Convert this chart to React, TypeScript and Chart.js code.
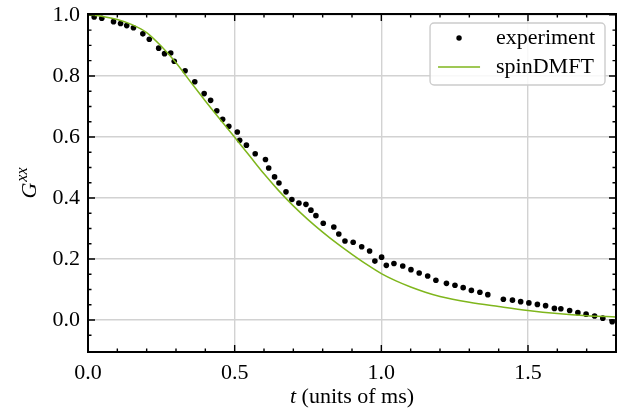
import React, { useEffect, useRef } from "react";
import { Chart, registerables } from "chart.js";

Chart.register(...registerables);

// ---------- data ----------
const tExp = [
  0.021, 0.047, 0.087, 0.111, 0.132, 0.155, 0.187, 0.209, 0.241, 0.261, 0.282, 0.294,
  0.331, 0.364, 0.396, 0.418, 0.439, 0.459, 0.48, 0.509, 0.517, 0.54, 0.57, 0.605,
  0.616, 0.636, 0.651, 0.675, 0.695, 0.719, 0.743, 0.76, 0.777, 0.802, 0.838, 0.855,
  0.876, 0.904, 0.933, 0.96, 0.978, 1.001, 1.017, 1.043, 1.073, 1.101, 1.129, 1.158,
  1.186, 1.222, 1.251, 1.279, 1.307, 1.336, 1.363, 1.416, 1.447, 1.475, 1.503, 1.532,
  1.56, 1.59, 1.612, 1.642, 1.67, 1.698, 1.727, 1.755, 1.787,
];
const gExp = [
  0.993, 0.989, 0.978, 0.972, 0.965, 0.958, 0.938, 0.92, 0.891, 0.873, 0.875, 0.848,
  0.817, 0.781, 0.742, 0.72, 0.686, 0.658, 0.635, 0.616, 0.589, 0.573, 0.545, 0.526,
  0.498, 0.469, 0.449, 0.42, 0.395, 0.383, 0.379, 0.36, 0.342, 0.317, 0.305, 0.282,
  0.259, 0.255, 0.24, 0.226, 0.193, 0.206, 0.179, 0.185, 0.177, 0.165, 0.154, 0.144,
  0.13, 0.12, 0.114, 0.106, 0.097, 0.091, 0.083, 0.068, 0.065, 0.06, 0.056, 0.051,
  0.047, 0.038, 0.037, 0.031, 0.024, 0.019, 0.013, 0.006, -0.006,
];
const tTheory = [
  0, 0.05, 0.1, 0.15, 0.2, 0.25, 0.3, 0.35, 0.4, 0.45, 0.5, 0.55, 0.6, 0.65, 0.7,
  0.75, 0.8, 0.85, 0.9, 0.95, 1.0, 1.05, 1.1, 1.15, 1.2, 1.3, 1.4, 1.5, 1.6, 1.7, 1.8,
];
const gTheory = [
  1.0, 0.995, 0.985, 0.968, 0.942, 0.897, 0.843, 0.78, 0.718, 0.658, 0.599, 0.539,
  0.479, 0.424, 0.374, 0.329, 0.288, 0.25, 0.215, 0.182, 0.152, 0.128, 0.108, 0.091,
  0.077, 0.058, 0.044, 0.031, 0.021, 0.014, 0.01,
];
const seriesLabels = ["experiment", "spinDMFT"];
const xMajorTicks = [0, 0.5, 1.0, 1.5];
const yMajorTicks = [0, 0.2, 0.4, 0.6, 0.8, 1.0];
const xMinorTicks = [0.1, 0.2, 0.3, 0.4, 0.6, 0.7, 0.8, 0.9, 1.1, 1.2, 1.3, 1.4, 1.6, 1.7];
const yMinorTicks = [-0.05, 0.05, 0.1, 0.15, 0.25, 0.3, 0.35, 0.45, 0.5, 0.55, 0.65, 0.7, 0.75, 0.85, 0.9, 0.95];
const X_MIN = 0;
const X_MAX = 1.8;
const Y_MIN = -0.105;
const Y_MAX = 1.003;

// ---------- style ----------
const FONT = "'Liberation Serif', 'Times New Roman', serif";
const GREEN = "#7fb61c";
const GRID = "#d2d2d2";

function roundRectPath(ctx: CanvasRenderingContext2D, x: number, y: number, w: number, h: number, r: number) {
  ctx.beginPath();
  ctx.moveTo(x + r, y);
  ctx.lineTo(x + w - r, y);
  ctx.arcTo(x + w, y, x + w, y + r, r);
  ctx.lineTo(x + w, y + h - r);
  ctx.arcTo(x + w, y + h, x + w - r, y + h, r);
  ctx.lineTo(x + r, y + h);
  ctx.arcTo(x, y + h, x, y + h - r, r);
  ctx.lineTo(x, y + r);
  ctx.arcTo(x, y, x + r, y, r);
  ctx.closePath();
}

const sciPlugin = {
  id: "sciChrome",
  afterDatasetsDraw(chart: any) {
    const { ctx, chartArea: a, scales } = chart;
    const xs = scales.x;
    const ys = scales.y;
    ctx.save();
    // ticks (inward, all four sides)
    ctx.strokeStyle = "#000";
    ctx.lineWidth = 1.4;
    const MAJ = 7;
    const MIN = 3.5;
    ctx.beginPath();
    const xt = (v: number, len: number) => {
      const p = xs.getPixelForValue(v);
      ctx.moveTo(p, a.bottom);
      ctx.lineTo(p, a.bottom - len);
      ctx.moveTo(p, a.top);
      ctx.lineTo(p, a.top + len);
    };
    const yt = (v: number, len: number) => {
      const p = ys.getPixelForValue(v);
      ctx.moveTo(a.left, p);
      ctx.lineTo(a.left + len, p);
      ctx.moveTo(a.right, p);
      ctx.lineTo(a.right - len, p);
    };
    xMajorTicks.forEach((v) => xt(v, MAJ));
    xMinorTicks.forEach((v) => xt(v, MIN));
    yMajorTicks.forEach((v) => yt(v, MAJ));
    yMinorTicks.forEach((v) => yt(v, MIN));
    ctx.stroke();

    // frame
    ctx.lineWidth = 2;
    ctx.strokeRect(a.left, a.top, a.right - a.left, a.bottom - a.top);

    // legend
    ctx.font = `22px ${FONT}`;
    const textW = Math.max(...seriesLabels.map((s) => ctx.measureText(s).width));
    const padL = 8, handleW = 42, gap = 16, padR = 10;
    const boxW = padL + handleW + gap + textW + padR;
    const boxRight = a.right - 11;
    const boxLeft = boxRight - boxW;
    const boxTop = a.top + 9;
    const boxH = 62;
    roundRectPath(ctx, boxLeft, boxTop, boxW, boxH, 4);
    ctx.fillStyle = "rgba(255,255,255,0.85)";
    ctx.fill();
    ctx.strokeStyle = "#cccccc";
    ctx.lineWidth = 1.4;
    ctx.stroke();
    const row1 = boxTop + 15;
    const row2 = boxTop + 44;
    const hx = boxLeft + padL;
    ctx.fillStyle = "#000";
    ctx.beginPath();
    ctx.arc(hx + handleW / 2, row1, 2.7, 0, Math.PI * 2);
    ctx.fill();
    ctx.strokeStyle = GREEN;
    ctx.lineWidth = 1.5;
    ctx.beginPath();
    ctx.moveTo(hx, row2);
    ctx.lineTo(hx + handleW, row2);
    ctx.stroke();
    ctx.fillStyle = "#000";
    ctx.textAlign = "left";
    ctx.textBaseline = "middle";
    const tx = hx + handleW + gap;
    ctx.fillText(seriesLabels[0], tx, row1);
    ctx.fillText(seriesLabels[1], tx, row2);

    // x title: italic t + " (units of ms)"
    const cx = (a.left + a.right) / 2;
    ctx.textBaseline = "alphabetic";
    ctx.font = `italic 22px ${FONT}`;
    const wT = ctx.measureText("t").width;
    ctx.font = `22px ${FONT}`;
    const rest = " (units of ms)";
    const wR = ctx.measureText(rest).width;
    const sx = cx - (wT + wR) / 2;
    const by = 403;
    ctx.font = `italic 22px ${FONT}`;
    ctx.fillText("t", sx, by);
    ctx.font = `22px ${FONT}`;
    ctx.fillText(rest, sx + wT, by);

    // y title: G^{xx}
    ctx.save();
    ctx.translate(26, (a.top + a.bottom) / 2);
    ctx.rotate(-Math.PI / 2);
    ctx.font = `italic 22px ${FONT}`;
    const wG = ctx.measureText("G").width;
    ctx.font = `italic 16px ${FONT}`;
    const wX = ctx.measureText("xx").width;
    const start = -(wG + 1 + wX) / 2;
    ctx.font = `italic 22px ${FONT}`;
    ctx.fillText("G", start, 10);
    ctx.font = `italic 16px ${FONT}`;
    ctx.fillText("xx", start + wG + 1, 1);
    ctx.restore();

    ctx.restore();
  },
};

export default function App() {
  const canvasRef = useRef<HTMLCanvasElement | null>(null);

  useEffect(() => {
    document.body.style.margin = "0";
    const canvas = canvasRef.current;
    if (!canvas) return;
    const chart = new Chart(canvas, {
      type: "scatter",
      data: {
        datasets: [
          {
            type: "line",
            label: seriesLabels[1],
            data: tTheory.map((t, i) => ({ x: t, y: gTheory[i] })),
            borderColor: GREEN,
            backgroundColor: GREEN,
            borderWidth: 1.5,
            pointRadius: 0,
            cubicInterpolationMode: "monotone",
            fill: false,
            order: 0,
          } as any,
          {
            type: "scatter",
            label: seriesLabels[0],
            data: tExp.map((t, i) => ({ x: t, y: gExp[i] })),
            backgroundColor: "#000",
            borderColor: "#000",
            borderWidth: 0,
            pointRadius: 2.8,
            order: 1,
          } as any,
        ],
      },
      options: {
        animation: false,
        responsive: false,
        devicePixelRatio: 1,
        layout: { padding: { left: 48, right: 7, top: 14, bottom: 0 } },
        plugins: {
          legend: { display: false },
          tooltip: { enabled: false },
        },
        scales: {
          x: {
            type: "linear",
            min: X_MIN,
            max: X_MAX,
            afterBuildTicks: (axis: any) => {
              axis.ticks = xMajorTicks.map((v) => ({ value: v }));
            },
            afterFit: (scale: any) => {
              scale.height = 64;
              scale.paddingLeft = 0;
              scale.paddingRight = 0;
            },
            grid: { color: GRID, lineWidth: 1.4, drawTicks: false },
            border: { display: false },
            ticks: {
              padding: 8,
              color: "#000",
              font: { family: FONT, size: 22 },
              maxRotation: 0,
              callback: (v: any) => Number(v).toFixed(1),
            },
          },
          y: {
            type: "linear",
            min: Y_MIN,
            max: Y_MAX,
            afterBuildTicks: (axis: any) => {
              axis.ticks = yMajorTicks.map((v) => ({ value: v }));
            },
            afterFit: (scale: any) => {
              scale.width = 40;
              scale.paddingTop = 0;
              scale.paddingBottom = 0;
            },
            grid: { color: GRID, lineWidth: 1.4, drawTicks: false },
            border: { display: false },
            ticks: {
              padding: 8,
              color: "#000",
              font: { family: FONT, size: 22 },
              callback: (v: any) => Number(v).toFixed(1),
            },
          },
        },
      },
      plugins: [sciPlugin],
    });
    return () => chart.destroy();
  }, []);

  return (
    <div style={{ width: 623, height: 416, background: "#fff" }}>
      <canvas ref={canvasRef} width={623} height={416} style={{ display: "block" }} />
    </div>
  );
}
